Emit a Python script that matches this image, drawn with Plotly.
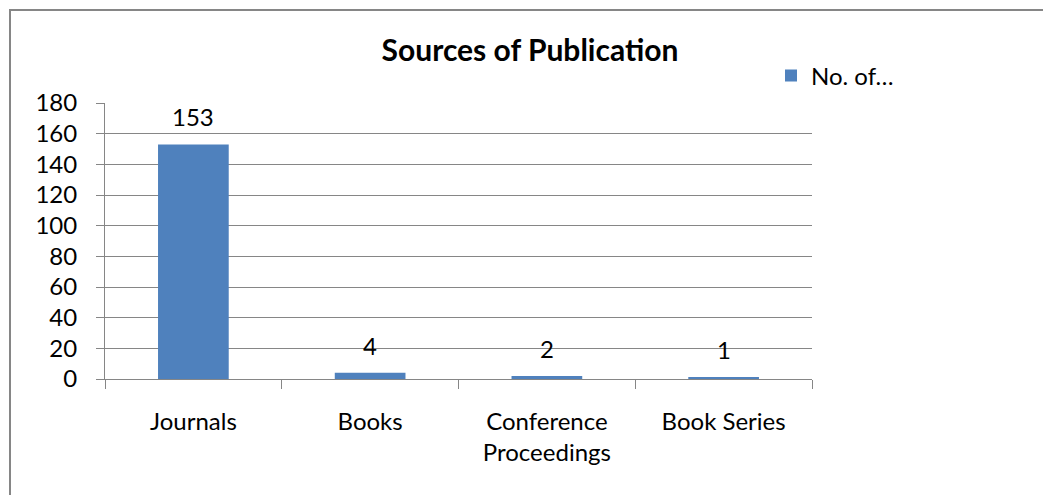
import plotly.graph_objects as go

# ---- data ----
categories = ["Journals", "Books", "Conference<br>Proceedings", "Book Series"]
counts = [153, 4, 2, 1]
series_name = "No. of…"
title_text = "Sources of Publication"
y_ticks = [0, 20, 40, 60, 80, 100, 120, 140, 160, 180]

# ---- layout geometry (pixels) ----
W, H = 1043, 495
PL, PR, PT, PB = 105, 812, 103, 379  # plot area box
pw, ph = PR - PL, PB - PT

def px(x):
    return (x - PL) / pw

def py(y):
    return (PB - y) / ph

FONT = "Lato, Carlito, Calibri, sans-serif"
GRAY = "#868686"
BLUE = "#4F81BD"
FS = 24

fig = go.Figure()
fig.add_trace(go.Bar(
    x=categories, y=counts, name=series_name,
    marker=dict(color=BLUE, line=dict(width=0)),
    showlegend=True,
))

for c, v in zip(categories, counts):
    fig.add_annotation(
        x=c, y=v, xref="x", yref="y", text=str(v), showarrow=False,
        yanchor="bottom", yshift=11,
        font=dict(family=FONT, size=FS, color="black"),
    )

fig.update_layout(
    width=W, height=H,
    margin=dict(l=PL, r=W - PR, t=PT, b=H - PB, pad=0),
    paper_bgcolor="white", plot_bgcolor="white",
    font=dict(family=FONT, size=FS, color="black"),
    bargap=0.6,
    title=dict(
        text="<b>" + title_text + "</b>",
        x=530 / W, xref="container", xanchor="center",
        y=1 - 50 / H, yref="container", yanchor="middle",
        font=dict(family=FONT, size=30, color="black"),
    ),
    legend=dict(
        x=px(771), y=py(76), xanchor="left", yanchor="middle",
        font=dict(family=FONT, size=FS, color="black"),
        bgcolor="rgba(0,0,0,0)", borderwidth=0,
    ),
    xaxis=dict(
        type="category", showgrid=False, showline=True, linecolor=GRAY, linewidth=1,
        ticks="outside", tickson="boundaries", ticklen=9, tickcolor=GRAY, tickwidth=1,
        ticklabelstandoff=21, zeroline=False,
        tickfont=dict(family=FONT, size=FS, color="black"),
    ),
    yaxis=dict(
        range=[0, 180], tickvals=y_ticks, showgrid=True, gridcolor=GRAY, gridwidth=1,
        showline=True, linecolor=GRAY, linewidth=1,
        ticks="outside", ticklen=8, tickcolor=GRAY, tickwidth=1,
        ticklabelstandoff=14, zeroline=False,
        tickfont=dict(family=FONT, size=FS, color="black"),
    ),
    shapes=[dict(
        type="rect", xref="paper", yref="paper",
        x0=px(10), x1=px(W + 5), y0=py(H + 5), y1=py(10),
        line=dict(color=GRAY, width=2), fillcolor="rgba(0,0,0,0)", layer="below",
    )],
)

fig.write_html("out.html")
